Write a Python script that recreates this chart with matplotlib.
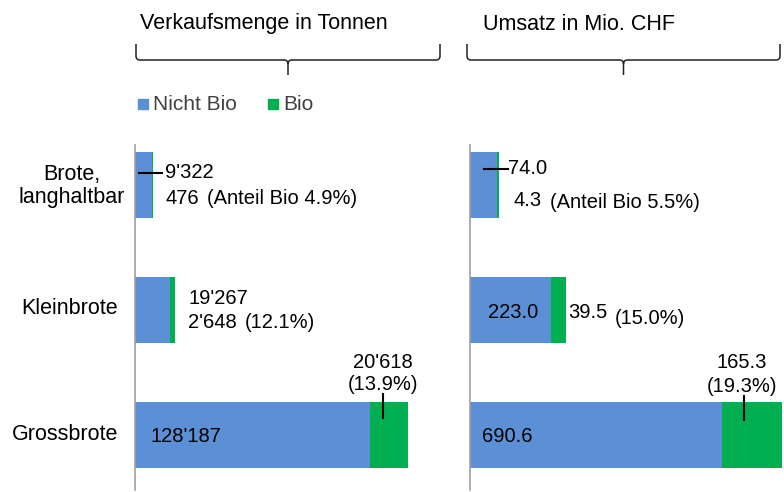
import matplotlib.pyplot as plt
from matplotlib.path import Path
from matplotlib.patches import PathPatch

plt.rcParams['font.family'] = ['Liberation Sans', 'DejaVu Sans']

# data
kategorien = ['Grossbrote', 'Kleinbrote', 'Brote,\nlanghaltbar']
menge_nicht_bio = [128187, 19267, 9322]
menge_bio = [20618, 2648, 476]
menge_anteil = [13.9, 12.1, 4.9]
umsatz_nicht_bio = [690.6, 223.0, 74.0]
umsatz_bio = [165.3, 39.5, 4.3]
umsatz_anteil = [19.3, 15.0, 5.5]

BLUE = '#5B8FD6'
GREEN = '#00B050'
W, H = 784, 492

fig = plt.figure(figsize=(W / 100, H / 100), dpi=100)


def fx(x):
    return x / W


def fy(y):
    return 1 - y / H


def tons(v):
    return f"{v:,}".replace(',', "'")


# axes in pixel layout: y-range 145..490 px
ax1 = fig.add_axes([fx(135), fy(490), fx(305), (490 - 145) / H])
ax2 = fig.add_axes([fx(470), fy(490), fx(314), (490 - 145) / H])

ylo, yhi = -0.44, 2.32
bh = 0.53
ax1.set_xlim(0, 305 / (235 / 128187))
ax2.set_xlim(0, 314 / (252 / 690.6))
for ax, nb, b in [(ax1, menge_nicht_bio, menge_bio), (ax2, umsatz_nicht_bio, umsatz_bio)]:
    ypos = range(len(nb))
    ax.barh(ypos, nb, height=bh, color=BLUE, clip_on=False)
    ax.barh(ypos, b, left=nb, height=bh, color=GREEN, clip_on=False)
    ax.set_ylim(ylo, yhi)
    for s in ['top', 'right', 'bottom']:
        ax.spines[s].set_visible(False)
    ax.spines['left'].set_color('#A0A0A0')
    ax.spines['left'].set_linewidth(1.2)
    ax.set_xticks([])
    ax.set_yticks([])
    ax.patch.set_alpha(0)

fs = 15.5   # titles, categories
ds = 14.5   # data labels
# category labels
fig.text(fx(118), fy(435), kategorien[0], ha='right', va='center', fontsize=fs)
fig.text(fx(118), fy(309), kategorien[1], ha='right', va='center', fontsize=fs)
fig.text(fx(72), fy(186), kategorien[2], ha='center', va='center', fontsize=fs,
         multialignment='center', linespacing=1.1)

# titles and braces
fig.text(fx(140), fy(24), 'Verkaufsmenge in Tonnen', ha='left', va='center', fontsize=fs)
fig.text(fx(483), fy(24), 'Umsatz in Mio. CHF', ha='left', va='center', fontsize=fs)


def brace(x0, x1, ytop, ymid, ybot):
    xm = (x0 + x1) / 2
    r = 4
    verts = [(x0, ytop), (x0, ymid - r), (x0, ymid), (x0 + r, ymid),
             (xm - r, ymid), (xm, ymid), (xm, ymid + r), (xm, ybot),
             (xm, ymid + r), (xm, ymid), (xm + r, ymid),
             (x1 - r, ymid), (x1, ymid), (x1, ymid - r), (x1, ytop)]
    codes = [Path.MOVETO, Path.LINETO, Path.CURVE3, Path.CURVE3,
             Path.LINETO, Path.CURVE3, Path.CURVE3, Path.LINETO,
             Path.MOVETO, Path.CURVE3, Path.CURVE3,
             Path.LINETO, Path.CURVE3, Path.CURVE3, Path.LINETO]
    verts = [(fx(x), fy(y)) for x, y in verts]
    fig.add_artist(PathPatch(Path(verts, codes), fill=False, lw=1.1,
                             ec='#222222', transform=fig.transFigure))


brace(136, 440, 44, 60, 75)
brace(467, 780, 44, 60, 75)

# legend
lc = '#404040'
fig.patches.append(plt.Rectangle((fx(138), fy(109)), fx(10), 10 / H, color=BLUE,
                                 transform=fig.transFigure))
fig.text(fx(153), fy(104), 'Nicht Bio', ha='left', va='center', fontsize=15, color=lc)
fig.patches.append(plt.Rectangle((fx(268), fy(109)), fx(10), 10 / H, color=GREEN,
                                 transform=fig.transFigure))
fig.text(fx(283), fy(104), 'Bio', ha='left', va='center', fontsize=15, color=lc)

# annotations Verkaufsmenge
fig.text(fx(165), fy(172), tons(menge_nicht_bio[2]), va='center', fontsize=ds)
fig.text(fx(165), fy(198), tons(menge_bio[2]), va='center', fontsize=ds)
fig.text(fx(207), fy(198), f"(Anteil Bio {menge_anteil[2]}%)", va='center', fontsize=ds)
ax1.plot([menge_nicht_bio[2] * 0.25, menge_nicht_bio[2] * 1.6], [2 + 0.1, 2 + 0.1],
         color='black', lw=1.5, clip_on=False)
fig.text(fx(188), fy(298), tons(menge_nicht_bio[1]), va='center', fontsize=ds)
fig.text(fx(188), fy(323), tons(menge_bio[1]), va='center', fontsize=ds)
fig.text(fx(245), fy(323), f"({menge_anteil[1]}%)", va='center', fontsize=ds)
fig.text(fx(150), fy(437), tons(menge_nicht_bio[0]), va='center', fontsize=ds)
gx = menge_nicht_bio[0] + menge_bio[0] * 0.35
fig.text(fx(383), fy(363), tons(menge_bio[0]), ha='center', va='center', fontsize=ds)
fig.text(fx(383), fy(385), f"({menge_anteil[0]}%)", ha='center', va='center', fontsize=ds)
ax1.plot([gx, gx], [0.33, 0.14], color='black', lw=1.5, clip_on=False)

# annotations Umsatz
fig.text(fx(508), fy(169), f"{umsatz_nicht_bio[2]:.1f}", va='center', fontsize=ds)
ax2.plot([umsatz_nicht_bio[2] * 0.5, umsatz_nicht_bio[2] * 1.4], [2 + 0.13, 2 + 0.13],
         color='black', lw=1.5, clip_on=False)
fig.text(fx(514), fy(200), f"{umsatz_bio[2]:.1f}", va='center', fontsize=ds)
fig.text(fx(550), fy(203), f"(Anteil Bio {umsatz_anteil[2]}%)", va='center', fontsize=ds)
fig.text(fx(488), fy(312), f"{umsatz_nicht_bio[1]:.1f}", va='center', fontsize=ds)
fig.text(fx(568), fy(312), f"{umsatz_bio[1]:.1f}", va='center', fontsize=ds)
fig.text(fx(615), fy(319), f"({umsatz_anteil[1]}%)", va='center', fontsize=ds)
fig.text(fx(482), fy(437), f"{umsatz_nicht_bio[0]:.1f}", va='center', fontsize=ds)
fig.text(fx(742), fy(362), f"{umsatz_bio[0]:.1f}", ha='center', va='center', fontsize=ds)
fig.text(fx(742), fy(387), f"({umsatz_anteil[0]}%)", ha='center', va='center', fontsize=ds)
ux = umsatz_nicht_bio[0] + umsatz_bio[0] * 0.37
ax2.plot([ux, ux], [0.31, 0.12], color='black', lw=1.5, clip_on=False)

fig.savefig('out.png', dpi=100)
